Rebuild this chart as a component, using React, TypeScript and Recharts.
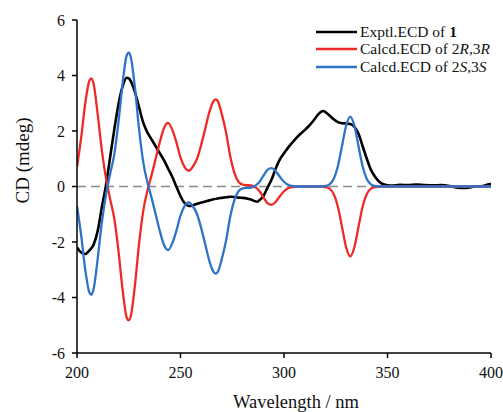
import React from 'react';
import { LineChart, Line, XAxis, YAxis, ReferenceLine, Legend, Label } from 'recharts';

// Experimental ECD of compound 1
const exptlWavelength = [200, 201, 202, 204, 206, 208, 210, 212, 214, 216, 218, 220, 222, 224, 225, 226, 228, 230, 232, 234, 236, 238, 240, 242, 244, 246, 248, 250, 252, 254, 256, 258, 260, 262, 264, 266, 268, 270, 272, 274, 276, 278, 280, 282, 284, 286, 287, 288, 290, 292, 294, 296, 298, 300, 302, 304, 306, 308, 310, 312, 314, 316, 318, 319, 320, 322, 324, 326, 328, 330, 332, 334, 336, 338, 340, 342, 344, 346, 348, 350, 352, 356, 360, 364, 368, 372, 376, 380, 384, 388, 392, 396, 398, 400];
const exptlCD = [-2.2, -2.3, -2.38, -2.43, -2.3, -2.1, -1.6, -0.75, 0.05, 1.05, 2.05, 2.95, 3.6, 3.92, 3.9, 3.8, 3.4, 2.85, 2.3, 1.95, 1.7, 1.45, 1.2, 0.95, 0.65, 0.35, 0.0, -0.35, -0.6, -0.7, -0.68, -0.62, -0.58, -0.54, -0.5, -0.46, -0.43, -0.41, -0.39, -0.37, -0.38, -0.4, -0.41, -0.43, -0.47, -0.53, -0.55, -0.5, -0.35, -0.05, 0.25, 0.65, 0.98, 1.2, 1.4, 1.58, 1.75, 1.9, 2.03, 2.18, 2.35, 2.55, 2.7, 2.72, 2.68, 2.56, 2.42, 2.32, 2.28, 2.27, 2.25, 2.15, 1.9, 1.45, 1.0, 0.6, 0.35, 0.17, 0.08, 0.04, 0.03, 0.06, 0.05, 0.07, 0.05, 0.04, 0.05, 0.02, -0.04, -0.05, 0.0, 0.02, 0.06, 0.1];

// Calculated ECD spectra
const calcdWavelength = [200, 202, 204, 206, 207, 208, 210, 212, 214, 216, 218, 220, 222, 224, 225, 226, 228, 230, 232, 234, 236, 238, 240, 242, 244, 246, 248, 250, 252, 254, 256, 258, 260, 262, 264, 266, 267, 268, 270, 272, 274, 276, 278, 280, 282, 284, 286, 288, 290, 292, 294, 296, 298, 300, 302, 304, 306, 318, 320, 322, 324, 326, 328, 330, 332, 334, 336, 338, 340, 342, 344, 346, 400];
const calcdRR = [0.7, 1.75, 3.0, 3.82, 3.9, 3.7, 2.6, 1.3, 0.3, -0.45, -1.15, -2.3, -3.7, -4.72, -4.82, -4.66, -3.55, -2.05, -0.88, -0.15, 0.4, 1.0, 1.6, 2.1, 2.29, 2.05, 1.6, 1.05, 0.7, 0.57, 0.72, 1.0, 1.5, 2.1, 2.7, 3.08, 3.14, 3.08, 2.6, 1.95, 1.1, 0.5, 0.17, 0.07, 0.05, 0.04, -0.02, -0.15, -0.38, -0.6, -0.66, -0.55, -0.35, -0.17, -0.06, -0.02, 0, 0, -0.02, -0.08, -0.27, -0.72, -1.45, -2.19, -2.52, -2.19, -1.45, -0.72, -0.27, -0.08, -0.02, 0, 0];
const calcdSS = [-0.7, -1.75, -3.0, -3.82, -3.9, -3.7, -2.6, -1.3, -0.3, 0.45, 1.15, 2.3, 3.7, 4.72, 4.82, 4.66, 3.55, 2.05, 0.88, 0.15, -0.4, -1.0, -1.6, -2.1, -2.29, -2.05, -1.6, -1.05, -0.7, -0.57, -0.72, -1.0, -1.5, -2.1, -2.7, -3.08, -3.14, -3.08, -2.6, -1.95, -1.1, -0.5, -0.17, -0.07, -0.05, -0.04, 0.02, 0.15, 0.38, 0.6, 0.66, 0.55, 0.35, 0.17, 0.06, 0.02, 0, 0, 0.02, 0.08, 0.27, 0.72, 1.45, 2.19, 2.52, 2.19, 1.45, 0.72, 0.27, 0.08, 0.02, 0, 0];

const xTicks = [200, 250, 300, 350, 400];
const xMinorTicks = [225, 275, 325, 375];
const yTicks = [-6, -4, -2, 0, 2, 4, 6];
const yMinorTicks = [-5, -3, -1, 1, 3, 5];

const exptlData = exptlWavelength.map((w, i) => ({ w, cd: exptlCD[i] }));
const calcdData = calcdWavelength.map((w, i) => ({ w, rr: calcdRR[i], ss: calcdSS[i] }));

const FONT = "'Liberation Serif', 'Times New Roman', serif";
const BLACK = '#000000';
const RED = '#ee2a27';
const BLUE = '#2e73c7';

const XTick = (props: any) => {
  const { x, y, payload } = props;
  return (
    <text x={x} y={y} dy="0.71em" textAnchor="middle" style={{ fontFamily: FONT, fontSize: 16, fill: '#111' }}>
      {payload.value}
    </text>
  );
};

const YTick = (props: any) => {
  const { x, y, payload } = props;
  return (
    <text x={x} y={y} dy="0.355em" textAnchor="end" style={{ fontFamily: FONT, fontSize: 16, fill: '#111' }}>
      {payload.value}
    </text>
  );
};

const renderLegend = () => {
  const row = (color: string, content: React.ReactNode) => (
    <div style={{ display: 'flex', alignItems: 'center', height: 17.5 }}>
      <svg width={42} height={4} style={{ marginRight: 2 }}>
        <line x1={0} y1={2} x2={41} y2={2} stroke={color} strokeWidth={2.5} />
      </svg>
      <span style={{ fontFamily: FONT, fontSize: 15.5, color: '#111', whiteSpace: 'nowrap' }}>{content}</span>
    </div>
  );
  return (
    <div>
      {row(BLACK, <>Exptl.ECD of <b>1</b></>)}
      {row(RED, <>Calcd.ECD of 2<i>R</i>,3<i>R</i></>)}
      {row(BLUE, <>Calcd.ECD of 2<i>S</i>,3<i>S</i></>)}
    </div>
  );
};

export default function App() {
  return (
    <div style={{ position: 'absolute', left: 0, top: 0, fontFamily: FONT }}>
      <LineChart
        width={503}
        height={412}
        margin={{ top: 20, right: 12, bottom: 29, left: 0 }}
      >
        <XAxis
          xAxisId="minor"
          type="number"
          dataKey="w"
          domain={[200, 400]}
          ticks={xMinorTicks}
          allowDataOverflow
          height={0}
          axisLine={false}
          tick={false}
          tickSize={3}
          tickLine={{ stroke: '#000', strokeWidth: 1.5 }}
        />
        <XAxis
          type="number"
          dataKey="w"
          domain={[200, 400]}
          ticks={xTicks}
          allowDataOverflow
          height={30}
          axisLine={{ stroke: '#000', strokeWidth: 1.5 }}
          tickLine={{ stroke: '#000', strokeWidth: 1.5 }}
          tickSize={5}
          tickMargin={9}
          tick={<XTick />}
        >
          <Label
            content={(p: any) => {
              const vb = p.viewBox || { x: 0, y: 0, width: 0, height: 0 };
              return (
                <text x={vb.x + vb.width / 2 + 12} y={vb.y + 55} textAnchor="middle" style={{ fontFamily: FONT, fontSize: 18.5, fill: '#111' }}>
                  Wavelength / nm
                </text>
              );
            }}
          />
        </XAxis>
        <YAxis
          yAxisId="minor"
          type="number"
          domain={[-6, 6]}
          ticks={yMinorTicks}
          allowDataOverflow
          width={0}
          axisLine={false}
          tick={false}
          tickSize={3}
          tickLine={{ stroke: '#000', strokeWidth: 1.5 }}
        />
        <YAxis
          type="number"
          domain={[-6, 6]}
          ticks={yTicks}
          allowDataOverflow
          width={77}
          axisLine={{ stroke: '#000', strokeWidth: 1.5 }}
          tickLine={{ stroke: '#000', strokeWidth: 1.5 }}
          tickSize={5}
          tickMargin={7}
          tick={<YTick />}
        >
          <Label
            content={(p: any) => {
              const vb = p.viewBox || { x: 0, y: 0, width: 0, height: 0 };
              const cx = vb.x + 22;
              const cy = vb.y + vb.height / 2 - 26;
              return (
                <text
                  x={cx}
                  y={cy}
                  transform={`rotate(-90, ${cx}, ${cy})`}
                  textAnchor="middle"
                  dominantBaseline="central"
                  style={{ fontFamily: FONT, fontSize: 19, fill: '#111' }}
                >
                  CD (mdeg)
                </text>
              );
            }}
          />
        </YAxis>
        <ReferenceLine y={0} stroke="#8c8c8c" strokeWidth={1.5} strokeDasharray="9 5" />
        <Line data={exptlData} dataKey="cd" name="Exptl.ECD of 1" type="monotone" stroke={BLACK} strokeWidth={2.6} dot={false} activeDot={false} isAnimationActive={false} />
        <Line data={calcdData} dataKey="rr" name="Calcd.ECD of 2R,3R" type="monotone" stroke={RED} strokeWidth={2.3} dot={false} activeDot={false} isAnimationActive={false} />
        <Line data={calcdData} dataKey="ss" name="Calcd.ECD of 2S,3S" type="monotone" stroke={BLUE} strokeWidth={2.3} dot={false} activeDot={false} isAnimationActive={false} />
        <Legend
          layout="vertical"
          align="center"
          verticalAlign="middle"
          content={renderLegend}
          wrapperStyle={{ top: 23, left: 316, width: 'auto' }}
        />
      </LineChart>
    </div>
  );
}
